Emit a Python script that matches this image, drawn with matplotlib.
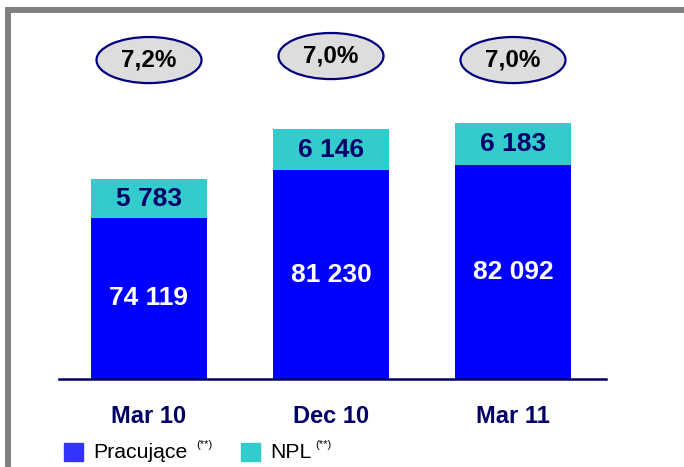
import matplotlib.pyplot as plt
from matplotlib.patches import Ellipse, Rectangle
from matplotlib.lines import Line2D

plt.rcParams['font.family'] = ['Liberation Sans', 'DejaVu Sans']

# Data
periods = ['Mar 10', 'Dec 10', 'Mar 11']
performing = [74119, 81230, 82092]
npl = [5783, 6146, 6183]
npl_ratio = ['7,2%', '7,0%', '7,0%']

def fmt(v):
    return f'{v:,}'.replace(',', ' ')

W, H = 684, 467
fig = plt.figure(figsize=(W / 100, H / 100), dpi=100)

y0, y1 = 50000, 104000
ax = fig.add_axes([59 / W, 1 - 379 / H, 547 / W, 360.7 / H])
ax.set_xlim(-0.4945, 2.511)
ax.set_ylim(y0, y1)

x = range(len(periods))
ax.bar(x, [p - y0 for p in performing], bottom=y0, width=0.632, color='#0000ff')
ax.bar(x, npl, bottom=performing, width=0.632, color='#33cccc')

for i in x:
    ax.text(i, (y0 + performing[i]) / 2, fmt(performing[i]), ha='center', va='center',
            color='white', fontsize=19, fontweight='bold')
    ax.text(i, performing[i] + npl[i] / 2, fmt(npl[i]), ha='center', va='center',
            color='#000066', fontsize=19, fontweight='bold')

# NPL ratio bubbles
ring_y = [97750, 98350, 97750]
for i in x:
    ax.add_patch(Ellipse((i, ring_y[i]), 0.577, 6900, facecolor='#dddddd',
                         edgecolor='#000080', lw=1.6, clip_on=False, zorder=3))
    ax.text(i, ring_y[i], npl_ratio[i], ha='center', va='center', color='black',
            fontsize=17.5, fontweight='bold', zorder=4)

for s in ['top', 'right', 'left']:
    ax.spines[s].set_visible(False)
ax.spines['bottom'].set_color('#000066')
ax.spines['bottom'].set_linewidth(1.8)
ax.set_yticks([])
ax.set_xticks(list(x))
ax.set_xticklabels(periods, fontsize=17, fontweight='bold', color='#000066')
ax.tick_params(axis='x', length=0, pad=19)

# grey frame
fig.add_artist(Line2D([5 / W, 1], [1 - 10 / H, 1 - 10 / H], color='#7f7f7f', lw=4.3,
                      transform=fig.transFigure, solid_capstyle='butt'))
fig.add_artist(Line2D([8 / W, 8 / W], [1 - 7 / H, 0], color='#7f7f7f', lw=4.3,
                      transform=fig.transFigure, solid_capstyle='butt'))

# legend
def px(xp, yp):
    return xp / W, 1 - yp / H

for sq_x, col, lab, sup_x, txt_x in [(64, '#3333ff', 'Pracujące', 196, 93),
                                      (241, '#33cccc', 'NPL', 315, 270)]:
    fig.add_artist(Rectangle(px(sq_x, 461), 19 / W, 18 / H, color=col,
                             transform=fig.transFigure))
    fig.text(*px(txt_x, 452), lab, fontsize=15.3, va='center', ha='left')
    fig.text(*px(sup_x, 445), '(**)', fontsize=8, va='center', ha='left')

fig.savefig('out.png', dpi=100)
